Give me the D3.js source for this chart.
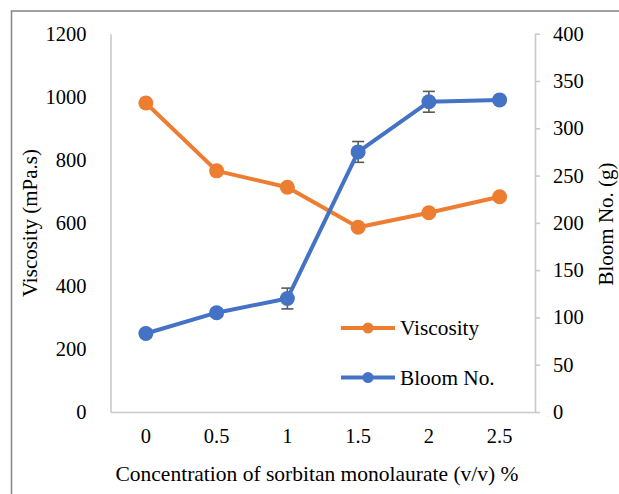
<!DOCTYPE html>
<html>
<head>
<meta charset="utf-8">
<script src="https://cdn.jsdelivr.net/npm/d3@7"></script>
<style>
  body { margin: 0; background: #fff; }
</style>
</head>
<body>
<div id="chart"></div>
<script>
// data
var concentrations = ["0", "0.5", "1", "1.5", "2", "2.5"];
var viscosity = [980, 765, 713, 586, 632, 683];
var bloom = [83, 105, 120, 275, 328, 330];
var bloomErr = [4, 4, 11, 11, 11, 3];
var leftTicks = [0, 200, 400, 600, 800, 1000, 1200];
var rightTicks = [0, 50, 100, 150, 200, 250, 300, 350, 400];

var width = 619, height = 494;
var margin = {top: 33.7, right: 84, bottom: 82, left: 110.5};
var FONT = "'Liberation Serif'";

var svg = d3.select("#chart").append("svg")
  .attr("width", width)
  .attr("height", height);

// outer frame (cut off at right and bottom like the original)
svg.append("rect")
  .attr("x", 11.5).attr("y", 11)
  .attr("width", 640).attr("height", 520)
  .attr("fill", "none")
  .attr("stroke", "#8a8a8a")
  .attr("stroke-width", 1.6);

var x = d3.scaleBand()
  .domain(concentrations)
  .range([margin.left, width - margin.right]);

var yL = d3.scaleLinear()
  .domain([0, 1200])
  .range([height - margin.bottom, margin.top]);

var yR = d3.scaleLinear()
  .domain([0, 400])
  .range([height - margin.bottom, margin.top]);

var cx = d => x(d) + x.bandwidth() / 2;

// left axis: line only, no ticks
var gL = svg.append("g")
  .attr("transform", `translate(${margin.left},0)`)
  .call(d3.axisLeft(yL).tickValues(leftTicks).tickFormat(d3.format("d")).tickSize(0).tickPadding(24));

// right axis with outside ticks
var gR = svg.append("g")
  .attr("transform", `translate(${width - margin.right},0)`)
  .call(d3.axisRight(yR).tickValues(rightTicks).tickFormat(d3.format("d")).tickSizeInner(5).tickSizeOuter(0).tickPadding(13));
gR.selectAll(".tick line").attr("stroke", "#c9c9c9").attr("stroke-width", 1.6);

// bottom axis
var gB = svg.append("g")
  .attr("transform", `translate(0,${height - margin.bottom})`)
  .call(d3.axisBottom(x).tickSize(0).tickPadding(16));

[gL, gR, gB].forEach(function(g) {
  g.attr("font-family", null).attr("font-size", null);
  g.select(".domain").attr("stroke", "#c9c9c9").attr("stroke-width", 1.6);
});

svg.selectAll(".tick text")
  .style("font-family", FONT)
  .style("font-size", "20.5px")
  .attr("fill", "#000");

// viscosity line
var viscData = concentrations.map((c, i) => ({c: c, v: viscosity[i]}));
var bloomData = concentrations.map((c, i) => ({c: c, v: bloom[i], e: bloomErr[i]}));

svg.append("path")
  .datum(viscData)
  .attr("fill", "none")
  .attr("stroke", "#ED7D31")
  .attr("stroke-width", 4)
  .attr("stroke-linejoin", "round")
  .attr("d", d3.line().x(d => cx(d.c)).y(d => yL(d.v)));

svg.append("g")
  .selectAll("circle")
  .data(viscData)
  .enter().append("circle")
  .attr("cx", d => cx(d.c))
  .attr("cy", d => yL(d.v))
  .attr("r", 7.5)
  .attr("fill", "#ED7D31");

// bloom line with error bars
var errG = svg.append("g")
  .attr("stroke", "#595959")
  .attr("stroke-width", 1.6);
bloomData.forEach(function(d) {
  var px = cx(d.c);
  errG.append("line").attr("x1", px).attr("x2", px)
    .attr("y1", yR(d.v - d.e)).attr("y2", yR(d.v + d.e));
  [d.v - d.e, d.v + d.e].forEach(function(v) {
    errG.append("line").attr("x1", px - 6).attr("x2", px + 6)
      .attr("y1", yR(v)).attr("y2", yR(v));
  });
});

svg.append("path")
  .datum(bloomData)
  .attr("fill", "none")
  .attr("stroke", "#4472C4")
  .attr("stroke-width", 4)
  .attr("stroke-linejoin", "round")
  .attr("d", d3.line().x(d => cx(d.c)).y(d => yR(d.v)));

svg.append("g")
  .selectAll("circle")
  .data(bloomData)
  .enter().append("circle")
  .attr("cx", d => cx(d.c))
  .attr("cy", d => yR(d.v))
  .attr("r", 7.5)
  .attr("fill", "#4472C4");

// legend
var legend = [
  {name: "Viscosity", color: "#ED7D31", y: 328},
  {name: "Bloom No.", color: "#4472C4", y: 377.5}
];
var lg = svg.append("g").selectAll("g")
  .data(legend)
  .enter().append("g")
  .attr("transform", d => `translate(341,${d.y})`);
lg.append("line")
  .attr("x1", 0).attr("x2", 54)
  .attr("stroke", d => d.color)
  .attr("stroke-width", 4);
lg.append("circle")
  .attr("cx", 27).attr("r", 5.5)
  .attr("fill", d => d.color);
lg.append("text")
  .attr("x", 59)
  .attr("dy", "0.35em")
  .style("font-family", FONT)
  .style("font-size", "21.3px")
  .text(d => d.name);

// axis titles
svg.append("text")
  .attr("transform", "translate(29.5,223) rotate(-90)")
  .attr("text-anchor", "middle")
  .attr("dy", "0.35em")
  .style("font-family", FONT)
  .style("font-size", "21px")
  .text("Viscosity (mPa.s)");

svg.append("text")
  .attr("transform", "translate(606,224) rotate(-90)")
  .attr("text-anchor", "middle")
  .attr("dy", "0.35em")
  .style("font-family", FONT)
  .style("font-size", "21px")
  .text("Bloom No. (g)");

svg.append("text")
  .attr("x", 317)
  .attr("y", 481)
  .attr("text-anchor", "middle")
  .style("font-family", FONT)
  .style("font-size", "21.5px")
  .text("Concentration of sorbitan monolaurate (v/v) %");
</script>
</body>
</html>
